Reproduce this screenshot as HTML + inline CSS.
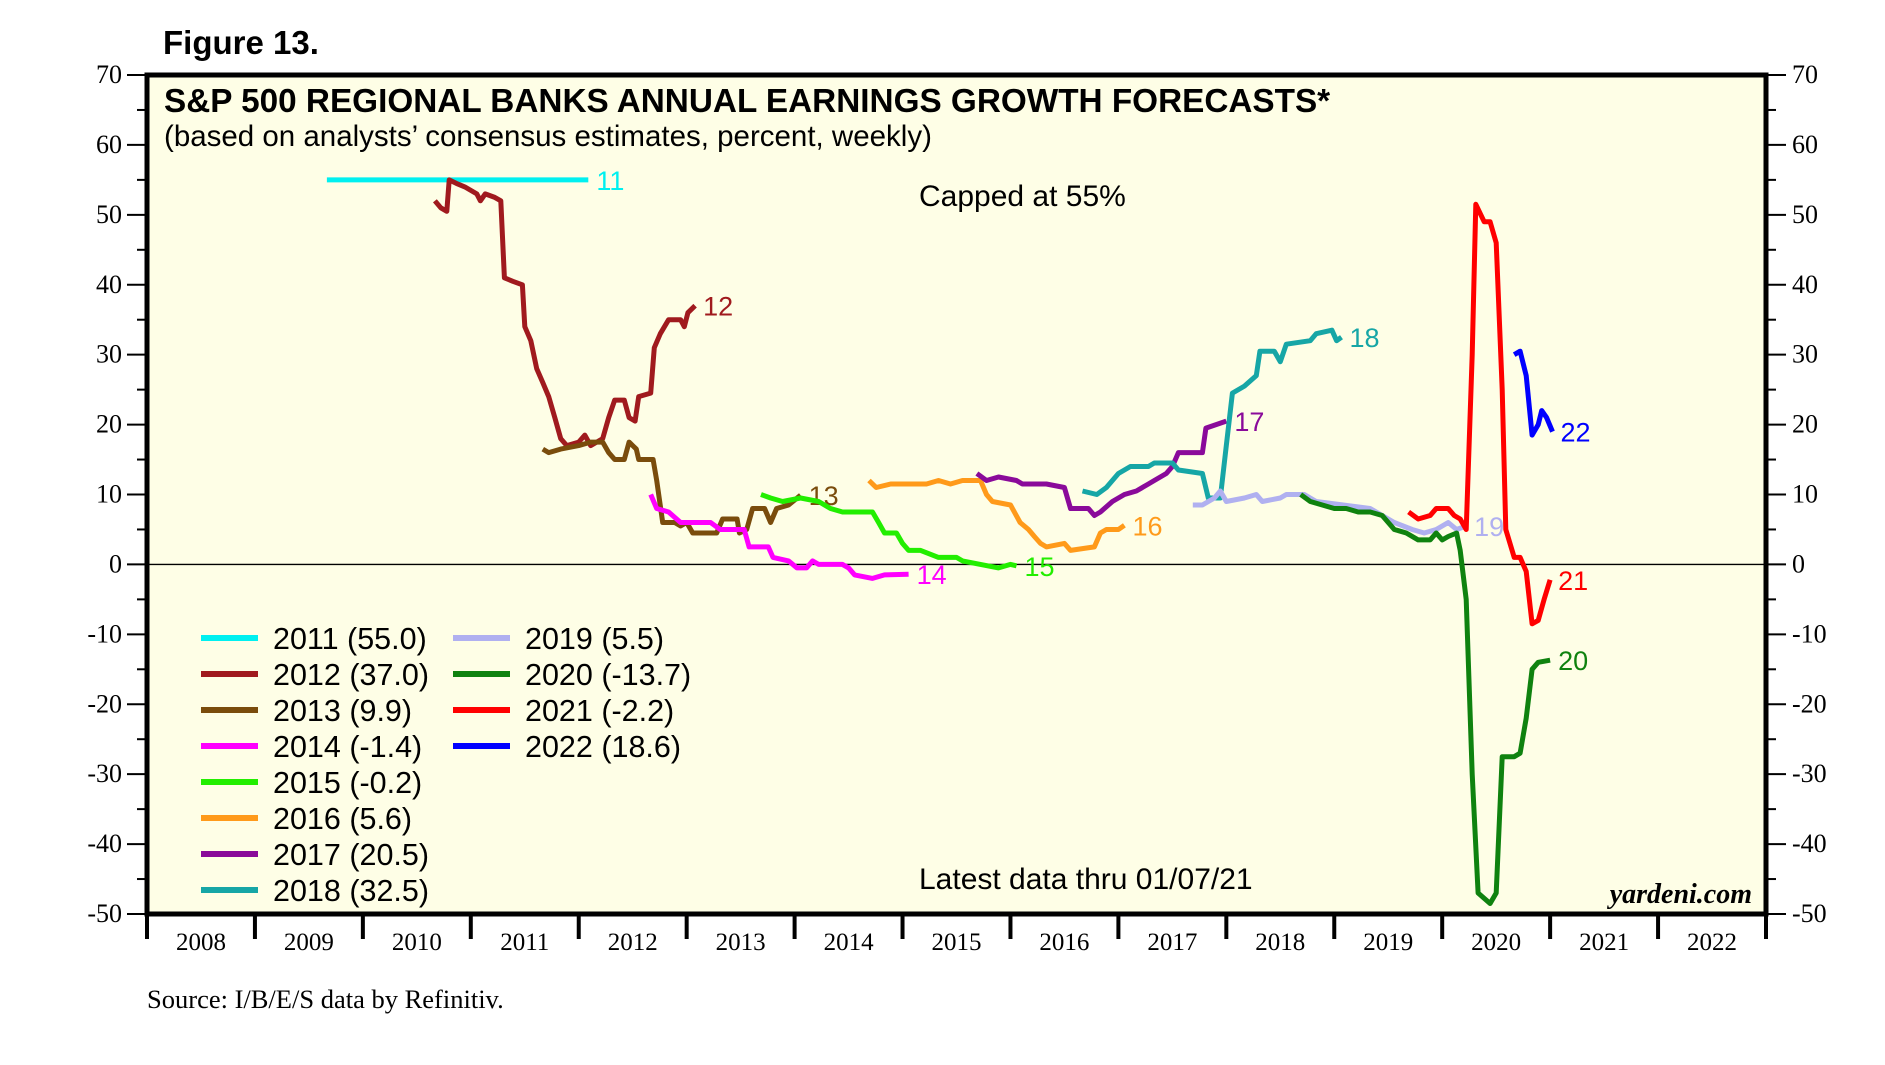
<!DOCTYPE html>
<html><head><meta charset="utf-8">
<style>
html,body{margin:0;padding:0;background:#fff;}
svg{display:block;}
</style></head>
<body>
<svg id="chart" width="1885" height="1065" xmlns="http://www.w3.org/2000/svg">
<text x="163" y="54" font-family="Liberation Sans, sans-serif" font-weight="bold" font-size="33">Figure 13.</text>
<rect x="147" y="75" width="1619" height="839" fill="#fefee6"/>
<g id="axes"></g>
<g id="series"></g>
<rect x="147" y="75" width="1619" height="839" fill="none" stroke="#000" stroke-width="5"/>
<text x="164" y="112" font-family="Liberation Sans, sans-serif" font-weight="bold" font-size="33.3">S&amp;P 500 REGIONAL BANKS ANNUAL EARNINGS GROWTH FORECASTS*</text>
<text x="164" y="146" font-family="Liberation Sans, sans-serif" font-size="29.5">(based on analysts’ consensus estimates, percent, weekly)</text>
<text x="919" y="206" font-family="Liberation Sans, sans-serif" font-size="30">Capped at 55%</text>
<text x="919" y="889" font-family="Liberation Sans, sans-serif" font-size="30">Latest data thru 01/07/21</text>
<text x="1752" y="903" text-anchor="end" font-family="Liberation Serif, serif" font-style="italic" font-weight="bold" font-size="28">yardeni.com</text>
<text x="147" y="1008" font-family="Liberation Serif, serif" font-size="26.5">Source: I/B/E/S data by Refinitiv.</text>
<g id="legend"></g>
</svg>
<script>
const yearTicks = [2008,2009,2010,2011,2012,2013,2014,2015,2016,2017,2018,2019,2020,2021,2022];
const yTicks = [70,60,50,40,30,20,10,0,-10,-20,-30,-40,-50];
const seriesNames = ['11','12','13','14','15','16','17','18','19','20','21','22'];
const legendLabels = ['2011 (55.0)','2012 (37.0)','2013 (9.9)','2014 (-1.4)','2015 (-0.2)','2016 (5.6)','2017 (20.5)','2018 (32.5)','2019 (5.5)','2020 (-13.7)','2021 (-2.2)','2022 (18.6)'];
const colors = ['#00f0f0','#a01a1e','#7a4c0c','#ff00ff','#22ee00','#ff9a1a','#8a0a9a','#16a6a6','#b0b0f0','#0f820f','#ff0000','#0000ff'];
const t11=[2009.667,2012.089]; const v11=[55,55];
const t12=[2010.667,2010.722,2010.778,2010.8,2010.867,2010.944,2011.056,2011.089,2011.133,2011.222,2011.278,2011.311,2011.389,2011.478,2011.5,2011.556,2011.611,2011.667,2011.722,2011.778,2011.833,2011.889,2012.0,2012.056,2012.111,2012.222,2012.278,2012.333,2012.422,2012.467,2012.522,2012.556,2012.667,2012.7,2012.756,2012.833,2012.944,2012.978,2013.011,2013.078];
const v12=[52,51,50.5,55,54.5,54,53,52,53,52.5,52,41,40.5,40,34,32,28,26,24,21,18,17,17.5,18.5,17,18,21,23.5,23.5,21,20.5,24,24.5,31,33,35,35,34,36,37];
const t13=[2011.667,2011.722,2011.833,2012.0,2012.111,2012.222,2012.278,2012.333,2012.422,2012.467,2012.533,2012.556,2012.689,2012.722,2012.778,2012.889,2012.944,2013.0,2013.056,2013.222,2013.278,2013.333,2013.467,2013.489,2013.556,2013.611,2013.722,2013.778,2013.833,2013.944,2014.056];
const v13=[16.5,16,16.5,17,17.5,17.5,16,15,15,17.5,16.5,15,15,12,6,6,5.5,6,4.5,4.5,4.5,6.5,6.5,4.5,5,8,8,6,8,8.5,9.9];
const t14=[2012.667,2012.722,2012.833,2012.944,2013.111,2013.222,2013.311,2013.389,2013.533,2013.578,2013.756,2013.8,2013.944,2014.022,2014.111,2014.167,2014.222,2014.444,2014.5,2014.556,2014.722,2014.833,2015.056];
const v14=[10,8,7.5,6,6,6,5,5,5,2.5,2.5,1,0.5,-0.5,-0.5,0.5,0,0,-0.5,-1.5,-2,-1.5,-1.4];
const t15=[2013.689,2013.778,2013.889,2014.056,2014.222,2014.333,2014.444,2014.722,2014.778,2014.833,2014.944,2015.0,2015.056,2015.167,2015.333,2015.5,2015.556,2015.722,2015.889,2016.0,2016.056];
const v15=[10,9.5,9,9.5,9,8,7.5,7.5,6,4.5,4.5,3,2,2,1,1,0.5,0,-0.5,0,-0.2];
const t16=[2014.689,2014.756,2014.889,2015.222,2015.333,2015.444,2015.556,2015.722,2015.778,2015.833,2016.0,2016.089,2016.167,2016.222,2016.278,2016.333,2016.5,2016.556,2016.778,2016.833,2016.889,2017.0,2017.056];
const v16=[12,11,11.5,11.5,12,11.5,12,12,10,9,8.5,6,5,4,3,2.5,3,2,2.5,4.5,5,5,5.6];
const t17=[2015.689,2015.778,2015.889,2016.056,2016.111,2016.333,2016.5,2016.556,2016.722,2016.778,2016.833,2016.944,2017.056,2017.167,2017.278,2017.333,2017.444,2017.5,2017.556,2017.778,2017.811,2018.0];
const v17=[13,12,12.5,12,11.5,11.5,11,8,8,7,7.5,9,10,10.5,11.5,12,13,14,16,16,19.5,20.5];
const t18=[2016.667,2016.8,2016.889,2017.0,2017.111,2017.278,2017.333,2017.5,2017.556,2017.778,2017.833,2017.944,2018.0,2018.056,2018.167,2018.278,2018.311,2018.444,2018.5,2018.556,2018.778,2018.833,2018.978,2019.022,2019.067];
const v18=[10.5,10,11,13,14,14,14.5,14.5,13.5,13,9.5,9.5,17,24.5,25.5,27,30.5,30.5,29,31.5,32,33,33.5,32,32.5];
const t19=[2017.689,2017.778,2017.889,2017.944,2018.0,2018.167,2018.278,2018.333,2018.5,2018.556,2018.722,2018.833,2019.333,2019.556,2019.722,2019.833,2019.944,2020.056,2020.133,2020.222];
const v19=[8.5,8.5,9.5,10.5,9,9.5,10,9,9.5,10,10,9,8,6,5,4.5,5,6,5,5.5];
const t20=[2018.689,2018.778,2018.889,2019.0,2019.111,2019.222,2019.333,2019.444,2019.556,2019.667,2019.778,2019.889,2019.944,2020.0,2020.056,2020.133,2020.167,2020.222,2020.278,2020.333,2020.444,2020.5,2020.556,2020.667,2020.722,2020.778,2020.833,2020.889,2021.0];
const v20=[10,9,8.5,8,8,7.5,7.5,7,5,4.5,3.5,3.5,4.5,3.5,4,4.5,2,-5,-30,-47,-48.5,-47,-27.5,-27.5,-27,-22,-15,-14,-13.7];
const t21=[2019.689,2019.778,2019.889,2019.944,2020.056,2020.111,2020.167,2020.222,2020.278,2020.311,2020.389,2020.444,2020.5,2020.556,2020.589,2020.667,2020.722,2020.778,2020.833,2020.889,2020.944,2021.0];
const v21=[7.5,6.5,7,8,8,7,6.5,5,30,51.5,49,49,46,25,5,1,1,-1,-8.5,-8,-5,-2.2];
const t22=[2020.667,2020.722,2020.778,2020.833,2020.889,2020.922,2020.967,2021.022];
const v22=[30,30.5,27,18.5,20,22,21,19];
const allT=[t11,t12,t13,t14,t15,t16,t17,t18,t19,t20,t21,t22];
const allV=[v11,v12,v13,v14,v15,v16,v17,v18,v19,v20,v21,v22];

const NS='http://www.w3.org/2000/svg';
const L=147,R=1766,T=75,B=914;
function xScale(t){return L+(t-2008)*(R-L)/15;}
function yScale(v){return T+(70-v)*(B-T)/120;}
function mk(tag,attrs,parent){const e=document.createElementNS(NS,tag);for(const k in attrs)e.setAttribute(k,attrs[k]);parent.appendChild(e);return e;}
const axes=document.getElementById('axes');
const zl=mk('line',{x1:L,x2:R,y1:yScale(0),y2:yScale(0),stroke:'#000','stroke-width':1.3},axes);


for(let v=-50;v<=70;v+=5){
  const major=v%10===0; const y=yScale(v);
  const a=mk('line',{x1:major?127:137,x2:L,y1:y,y2:y,stroke:'#000','stroke-width':2},axes);
  
  
  const b=mk('line',{x1:R,x2:major?1786:1776,y1:y,y2:y,stroke:'#000','stroke-width':2},axes);
  
  
}
yTicks.forEach(v=>{
  const y=yScale(v)+8;
  const a=mk('text',{x:122,y:y,'text-anchor':'end','font-family':'Liberation Serif, serif','font-size':26},axes);
  a.textContent=v;
  
  
  const b=mk('text',{x:1792,y:y,'font-family':'Liberation Serif, serif','font-size':26},axes);
  b.textContent=v;
  
  
});
for(let yr=2008;yr<=2023;yr++){
  const x=xScale(yr);
  const tk=mk('line',{x1:x,x2:x,y1:B,y2:939,stroke:'#000','stroke-width':4},axes);
  
  
}
yearTicks.forEach(yr=>{
  const t=mk('text',{x:xScale(yr+0.5),y:950,'text-anchor':'middle','font-family':'Liberation Serif, serif','font-size':25},axes);
  t.textContent=yr;
  
  
});
const sg=document.getElementById('series');
allT.forEach((ts,i)=>{
  const vs=allV[i];
  const d=ts.map((t,j)=>(j?'L':'M')+xScale(t).toFixed(1)+','+yScale(vs[j]).toFixed(1)).join(' ');
  const p=mk('path',{d:d,fill:'none',stroke:colors[i],'stroke-width':5,'stroke-linejoin':'round'},sg);
  
  
  const lt=ts[ts.length-1], lv=vs[vs.length-1];
  const lb=mk('text',{x:xScale(lt)+8,y:yScale(lv)+10,fill:colors[i],'font-family':'Liberation Sans, sans-serif','font-size':27},sg);
  lb.textContent=seriesNames[i];
  
  
});
const lg=document.getElementById('legend');
legendLabels.forEach((s,i)=>{
  const col=i<8?0:1, row=i<8?i:i-8;
  const x0=col?453:201, y=638+row*36;
  const ln=mk('line',{x1:x0,x2:x0+57,y1:y,y2:y,stroke:colors[i],'stroke-width':6},lg);
  
  
  const tx=mk('text',{x:x0+72,y:y+11,'font-family':'Liberation Sans, sans-serif','font-size':30.5},lg);
  tx.textContent=s;
  
  
});
</script>
</body></html>
